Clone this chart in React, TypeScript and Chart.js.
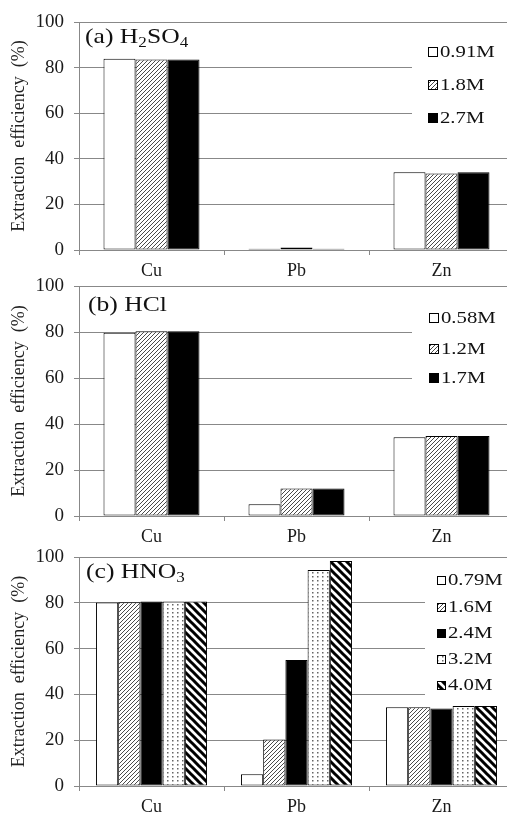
import React, { useEffect, useRef } from "react";
import { Chart, registerables } from "chart.js";

Chart.register(...registerables);

// ---------- data ----------
const metals = ["Cu", "Pb", "Zn"];
const yAxisTitle = "Extraction  efficiency  (%)";

const h2so4Labels = ["0.91M", "1.8M", "2.7M"];
const h2so4_091 = [83.9, 0.6, 34.1];
const h2so4_18 = [83.5, 1.1, 33.6];
const h2so4_27 = [83.5, 0.6, 34.1];

const hclLabels = ["0.58M", "1.2M", "1.7M"];
const hcl_058 = [79.7, 5.1, 34.2];
const hcl_12 = [80.3, 12.0, 34.8];
const hcl_17 = [80.3, 12.0, 34.8];

const hno3Labels = ["0.79M", "1.6M", "2.4M", "3.2M", "4.0M"];
const hno3_079 = [80.1, 5.1, 34.4];
const hno3_16 = [80.2, 20.3, 34.4];
const hno3_24 = [80.6, 55.0, 33.8];
const hno3_32 = [80.6, 94.3, 34.9];
const hno3_40 = [80.6, 98.3, 34.9];

// ---------- patterns ----------
function makeTile(w: number, h: number, draw: (c: CanvasRenderingContext2D) => void): CanvasPattern {
  const cv = document.createElement("canvas");
  cv.width = w;
  cv.height = h;
  const c = cv.getContext("2d")!;
  c.fillStyle = "#ffffff";
  c.fillRect(0, 0, w, h);
  draw(c);
  return c.createPattern(cv, "repeat")!;
}

function fills(): (string | CanvasPattern)[] {
  const hatch = makeTile(4, 4, (c) => {
    c.strokeStyle = "#4a4a4a";
    c.lineWidth = 1;
    c.beginPath();
    for (const k of [0, 4, 8]) {
      c.moveTo(-1, k + 1);
      c.lineTo(k + 1, -1);
    }
    c.stroke();
  });
  const dots = makeTile(5, 4, (c) => {
    c.fillStyle = "#666";
    c.fillRect(2, 1, 1.5, 1.5);
  });
  const stripes = makeTile(8, 8, (c) => {
    c.strokeStyle = "#000";
    c.lineWidth = 3;
    c.beginPath();
    for (const k of [-8, 0, 8]) {
      c.moveTo(k - 2, -2);
      c.lineTo(k + 10, 10);
    }
    c.stroke();
  });
  return ["#ffffff", hatch, "#000000", dots, stripes];
}

// ---------- panel layout ----------
type Seg = { text: string; sub?: boolean };
interface Panel {
  top: number;
  height: number;
  title: Seg[];
  titleX: number;
  titleY: number;
  labels: string[];
  series: number[][];
  catPct: number;
  box: [number, number, number, number];
  legendX: number;
  legendY: number[];
  swatch: number;
}

const panels: Panel[] = [
  {
    top: 0,
    height: 284,
    title: [{ text: "(a) H" }, { text: "2", sub: true }, { text: "SO" }, { text: "4", sub: true }],
    titleX: 85,
    titleY: 43,
    labels: h2so4Labels,
    series: [h2so4_091, h2so4_18, h2so4_27],
    catPct: 0.662,
    box: [412, 30, 110, 100],
    legendX: 428,
    legendY: [52, 85, 118],
    swatch: 10,
  },
  {
    top: 264,
    height: 286,
    title: [{ text: "(b) HCl" }],
    titleX: 88,
    titleY: 47,
    labels: hclLabels,
    series: [hcl_058, hcl_12, hcl_17],
    catPct: 0.662,
    box: [412, 30, 110, 100],
    legendX: 429,
    legendY: [54, 85, 114],
    swatch: 10,
  },
  {
    top: 535,
    height: 285,
    title: [{ text: "(c) HNO" }, { text: "3", sub: true }],
    titleX: 86,
    titleY: 43,
    labels: hno3Labels,
    series: [hno3_079, hno3_16, hno3_24, hno3_32, hno3_40],
    catPct: 0.766,
    box: [425, 27, 100, 138],
    legendX: 437,
    legendY: [45, 72, 98, 124, 150],
    swatch: 9,
  },
];

const SERIF = '"Liberation Serif"';
const STRETCH = 1.22;

function decoPlugin(p: Panel) {
  return {
    id: "deco",
    beforeDatasetsDraw(chart: any) {
      const ctx = chart.ctx as CanvasRenderingContext2D;
      ctx.save();
      ctx.fillStyle = "#ffffff";
      ctx.fillRect(p.box[0], p.box[1], p.box[2], p.box[3]);
      ctx.restore();
    },
    afterDraw(chart: any) {
      const ctx = chart.ctx as CanvasRenderingContext2D;
      // panel title
      ctx.save();
      ctx.translate(p.titleX, p.titleY);
      ctx.scale(STRETCH, 1);
      ctx.fillStyle = "#111";
      ctx.textBaseline = "alphabetic";
      let cx = 0;
      for (const s of p.title) {
        ctx.font = `${s.sub ? 14 : 21}px ${SERIF}`;
        ctx.fillText(s.text, cx, s.sub ? 4 : 0);
        cx += ctx.measureText(s.text).width;
      }
      ctx.restore();
      // legend
      const sw = p.swatch;
      chart.data.datasets.forEach((ds: any, i: number) => {
        const y = p.legendY[i];
        ctx.save();
        ctx.fillStyle = ds.backgroundColor;
        ctx.fillRect(p.legendX, Math.round(y - sw / 2), sw, sw);
        ctx.strokeStyle = "#000";
        ctx.lineWidth = 1;
        ctx.strokeRect(p.legendX + 0.5, Math.round(y - sw / 2) + 0.5, sw - 1, sw - 1);
        ctx.translate(p.legendX + sw + 2, y);
        ctx.scale(STRETCH, 1);
        ctx.font = `17px ${SERIF}`;
        ctx.textBaseline = "middle";
        ctx.fillStyle = "#111";
        ctx.fillText(ds.label, 0, 1);
        ctx.restore();
      });
    },
  };
}

function PanelChart({ p }: { p: Panel }) {
  const ref = useRef<HTMLCanvasElement | null>(null);
  useEffect(() => {
    if (!ref.current) return;
    const f = fills();
    const chart = new Chart(ref.current, {
      type: "bar",
      data: {
        labels: metals,
        datasets: p.series.map((vals, i) => ({
          label: p.labels[i],
          data: vals,
          backgroundColor: f[i] as any,
          borderColor: "#000",
          borderWidth: 1,
          borderSkipped: false,
          categoryPercentage: p.catPct,
          barPercentage: 1,
        })),
      },
      options: {
        animation: false,
        responsive: false,
        layout: { padding: { top: 22, left: 0, right: 0, bottom: 0 } },
        plugins: {
          legend: { display: false },
          tooltip: { enabled: false },
        },
        scales: {
          x: {
            afterFit: (s: any) => {
              s.height = 34;
            },
            grid: {
              offset: true,
              drawOnChartArea: false,
              drawTicks: true,
              tickLength: 5,
              color: "#888",
            },
            border: { display: true, color: "#888", width: 1 },
            ticks: {
              padding: 5,
              color: "#1a1a1a",
              font: { family: SERIF, size: 18 },
            },
          },
          y: {
            min: 0,
            max: 100,
            afterFit: (s: any) => {
              s.width = 79;
            },
            ticks: {
              stepSize: 20,
              padding: 10,
              color: "#1a1a1a",
              font: { family: SERIF, size: 19 },
            },
            grid: { color: "#888", tickLength: 5, drawTicks: true },
            border: { display: true, color: "#888", width: 1 },
            title: {
              display: true,
              text: yAxisTitle,
              color: "#222",
              font: { family: SERIF, size: 18 },
              padding: { top: 8, bottom: 0 },
            },
          },
        },
      },
      plugins: [decoPlugin(p)],
    });
    return () => chart.destroy();
  }, [p]);
  return (
    <div style={{ position: "absolute", left: 0, top: p.top, width: 514, height: p.height }}>
      <canvas ref={ref} width={514} height={p.height} style={{ width: 514, height: p.height, display: "block" }} />
    </div>
  );
}

export default function App() {
  return (
    <div
      style={{
        position: "absolute",
        left: 0,
        top: 0,
        width: 507,
        height: 814,
        overflow: "hidden",
        background: "#fff",
      }}
    >
      {panels.map((p, i) => (
        <PanelChart key={i} p={p} />
      ))}
    </div>
  );
}
